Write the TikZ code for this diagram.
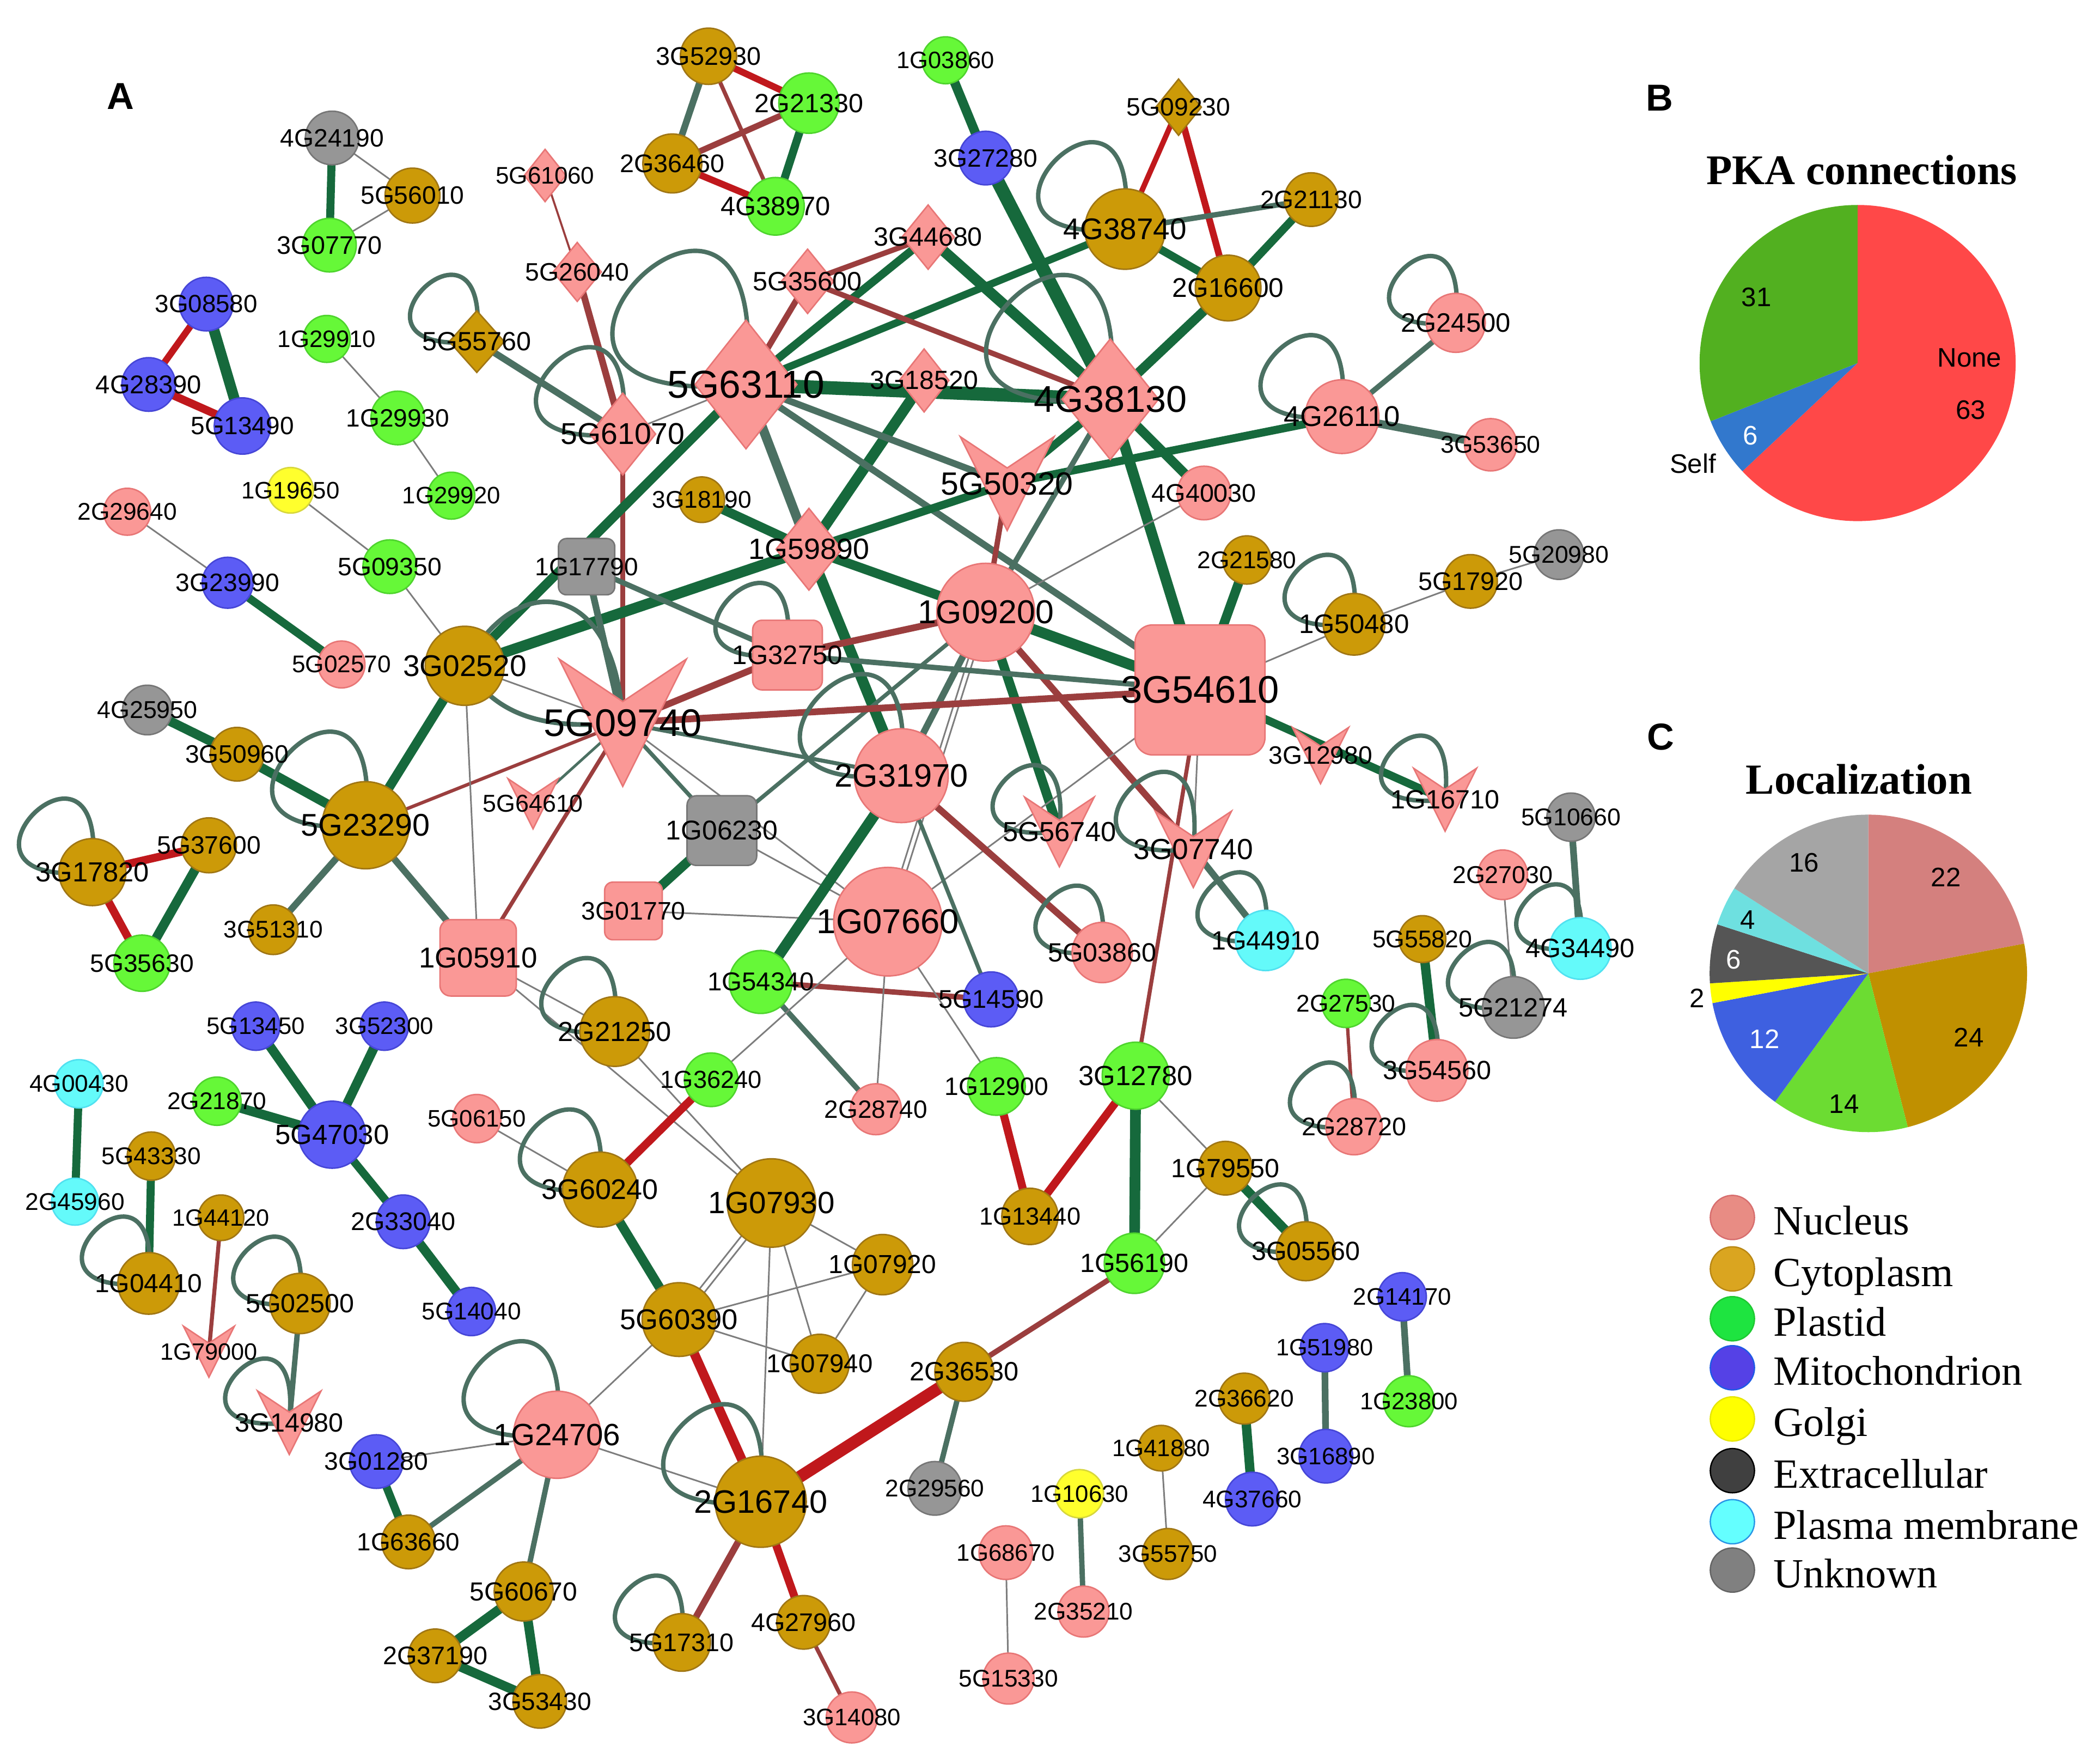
\documentclass[tikz,border=0pt]{standalone}
\usepackage{fontspec}
\setmainfont{Liberation Sans}
\newfontfamily\seriffont{Liberation Serif}
\usetikzlibrary{shapes.geometric,calc}
\pgfdeclarelayer{bg}
\pgfdeclarelayer{fg}
\pgfsetlayers{bg,main,fg}
\definecolor{pkF}{RGB}{250,152,150}
\definecolor{pkD}{RGB}{232,118,118}
\definecolor{goF}{RGB}{204,154,8}
\definecolor{goD}{RGB}{160,118,20}
\definecolor{grF}{RGB}{102,248,56}
\definecolor{grD}{RGB}{78,212,45}
\definecolor{blF}{RGB}{92,92,245}
\definecolor{blD}{RGB}{70,70,215}
\definecolor{yeF}{RGB}{255,255,45}
\definecolor{yeD}{RGB}{215,215,60}
\definecolor{cyF}{RGB}{100,250,250}
\definecolor{cyD}{RGB}{80,225,240}
\definecolor{gyF}{RGB}{150,150,150}
\definecolor{gyD}{RGB}{118,118,118}
\definecolor{cG}{RGB}{22,105,60}
\definecolor{cGG}{RGB}{75,112,98}
\definecolor{cR}{RGB}{192,24,28}
\definecolor{cM}{RGB}{155,62,62}
\definecolor{cT}{RGB}{125,125,125}
\definecolor{pR}{RGB}{255,72,72}
\definecolor{pG}{RGB}{82,176,32}
\definecolor{pB}{RGB}{50,120,205}
\definecolor{lN}{RGB}{212,128,126}
\definecolor{lC}{RGB}{192,144,0}
\definecolor{lP}{RGB}{108,220,50}
\definecolor{lM}{RGB}{62,96,224}
\definecolor{lY}{RGB}{255,255,0}
\definecolor{lE}{RGB}{85,85,85}
\definecolor{lPM}{RGB}{110,224,224}
\definecolor{lU}{RGB}{165,165,165}
\tikzset{
  nd/.style={line width=1.1pt, inner sep=0pt, outer sep=0pt},
  nuc/.style={nd, fill=pkF, draw=pkD},
  cyt/.style={nd, fill=goF, draw=goD},
  pla/.style={nd, fill=grF, draw=grD},
  mit/.style={nd, fill=blF, draw=blD},
  gol/.style={nd, fill=yeF, draw=yeD},
  pm/.style={nd, fill=cyF, draw=cyD},
  unk/.style={nd, fill=gyF, draw=gyD},
  lab/.style={inner sep=0pt, text=black},
  eg/.style={draw=cG, line width=#1},
  egg/.style={draw=cGG, line width=#1},
  er/.style={draw=cR, line width=#1},
  em/.style={draw=cM, line width=#1},
  et/.style={draw=cT, line width=1.2pt},
  lp/.style={draw=cGG, line width=3.3pt},
  lgc/.style={circle, minimum size=33pt, inner sep=0pt, line width=1pt},
  lgt/.style={anchor=base west, inner sep=0pt, font=\seriffont\fontsize{31pt}{31pt}\selectfont},
  pl/.style={inner sep=0pt, font=\fontsize{20pt}{20pt}\selectfont},
}
\newcommand\mklab[2]{\begin{pgfonlayer}{fg}\node[lab,font=\fontsize{#2pt}{#2pt}\selectfont] (#1-t) at (#1.center) {#1};\end{pgfonlayer}}
\newcommand\mkC[6]{\node[circle,minimum size=#4pt,#5] (#1) at (#2,#3) {};\mklab{#1}{#6}}
\newcommand\mkD[7]{\node[diamond,minimum width=#4pt,minimum height=#5pt,#6] (#1) at (#2,#3) {};\mklab{#1}{#7}}
\newcommand\mkR[7]{\node[rectangle,rounded corners=#5pt,minimum size=#4pt,#6] (#1) at (#2,#3) {};\mklab{#1}{#7}}
\newcommand\mkV[5]{\node[inner sep=0pt,minimum size=0pt] (#1) at (#2,#3) {};
  \filldraw[nuc] ([shift={(-#4,-#4)}]#1.center) -- ([shift={(0,-#4/3)}]#1.center) -- ([shift={(#4,-#4)}]#1.center) -- ([shift={(0,#4)}]#1.center) -- cycle;
  \mklab{#1}{#5}}
\newcommand\edg[3]{\draw[#1] (#2.center) -- (#3.center);}
\newcommand\slf[2]{\draw[lp] (#1.center) .. controls +({0.24*#2},{-2.36*#2}) and +({-2.36*#2},{0.24*#2}) .. (#1.center);}
\begin{document}
\begin{tikzpicture}[x=1pt,y=-1pt]
\useasboundingbox (0,0) rectangle (1568,1313);
\begin{pgfonlayer}{bg}
\fill[white] (0,0) rectangle (1568,1313);
\end{pgfonlayer}
% ---------- circles ----------
\mkC{4G24190}{248}{103}{40}{unk}{18.8}
\mkC{5G56010}{308}{146}{41}{cyt}{18.8}
\mkC{3G07770}{246}{183}{40}{pla}{19}
\mkC{3G08580}{154}{227}{40}{mit}{18.6}
\mkC{4G28390}{111}{287}{40}{mit}{19.2}
\mkC{5G13490}{181}{318}{42}{mit}{18.7}
\mkC{1G29910}{244}{253}{35}{pla}{17.8}
\mkC{1G29930}{297}{312}{40}{pla}{18.7}
\mkC{1G29920}{337}{370}{35}{pla}{17.8}
\mkC{1G19650}{217}{366}{34}{gol}{17.8}
\mkC{5G09350}{291}{423}{40}{pla}{18.8}
\mkC{2G29640}{95}{382}{35}{nuc}{18}
\mkC{3G23990}{170}{435}{38}{mit}{18.8}
\mkC{5G02570}{255}{496}{35}{nuc}{18}
\mkC{3G52930}{529}{42}{42}{cyt}{19}
\mkC{2G21330}{604}{77}{45}{pla}{19.7}
\mkC{2G36460}{502}{122}{44}{cyt}{19}
\mkC{4G38970}{579}{154}{43}{pla}{19.9}
\mkC{1G03860}{706}{45}{35}{pla}{17.7}
\mkC{3G27280}{736}{118}{40}{mit}{18.8}
\mkC{4G38740}{840}{171}{60}{cyt}{22.3}
\mkC{2G21130}{979}{149}{40}{cyt}{18.8}
\mkC{2G16600}{917}{215}{49}{cyt}{20.2}
\mkC{4G40030}{899}{368}{40}{nuc}{19}
\mkC{4G26110}{1002}{311}{55}{nuc}{21.4}
\mkC{2G24500}{1087}{241}{44}{nuc}{19.9}
\mkC{3G53650}{1113}{332}{39}{nuc}{18.1}
\mkC{3G18190}{524}{373}{34}{cyt}{18}
\mkC{2G21580}{931}{418}{36}{cyt}{18}
\mkC{1G50480}{1011}{466}{46}{cyt}{20}
\mkC{5G17920}{1098}{434}{40}{cyt}{19}
\mkC{5G20980}{1164}{414}{37}{unk}{18.1}
\mkC{1G09200}{736}{457}{73}{nuc}{24.7}
\mkC{2G31970}{673}{579}{70}{nuc}{24.2}
\mkC{1G07660}{663}{688}{81}{nuc}{25.8}
\mkC{3G02520}{347}{497}{59}{cyt}{22.4}
\mkC{5G23290}{273}{616}{65}{cyt}{23.4}
\mkC{4G25950}{110}{530}{37}{unk}{18.2}
\mkC{3G50960}{177}{563}{40}{cyt}{18.8}
\mkC{3G17820}{69}{651}{50}{cyt}{20.6}
\mkC{5G37600}{156}{631}{41}{cyt}{18.8}
\mkC{5G35630}{106}{719}{42}{pla}{18.8}
\mkC{3G51310}{204}{694}{37}{cyt}{18}
\mkC{2G21250}{459}{770}{52}{cyt}{20.6}
\mkC{5G13450}{191}{766}{36}{mit}{17.8}
\mkC{3G52300}{287}{766}{36}{mit}{17.8}
\mkC{2G21870}{162}{822}{36}{pla}{18}
\mkC{5G47030}{248}{847}{50}{mit}{20.7}
\mkC{4G00430}{59}{809}{36}{pm}{18}
\mkC{5G43330}{113}{863}{36}{cyt}{18}
\mkC{5G06150}{356}{835}{36}{nuc}{17.8}
\mkC{2G45960}{56}{897}{35}{pm}{18}
\mkC{1G04410}{111}{958}{46}{cyt}{19.5}
\mkC{1G44120}{165}{909}{34}{cyt}{17.6}
\mkC{5G02500}{224}{973}{45}{cyt}{19.7}
\mkC{2G33040}{301}{912}{40}{mit}{19}
\mkC{5G14040}{352}{979}{36}{mit}{18}
\mkC{3G60240}{448}{888}{56}{cyt}{21.2}
\mkC{1G24706}{416}{1071}{65}{nuc}{23}
\mkC{3G01280}{281}{1091}{40}{mit}{18.8}
\mkC{1G63660}{305}{1151}{40}{cyt}{18.6}
\mkC{5G60670}{391}{1188}{44}{cyt}{19.5}
\mkC{2G37190}{325}{1236}{40}{cyt}{19}
\mkC{3G53430}{403}{1270}{40}{cyt}{18.7}
\mkC{5G17310}{509}{1226}{43}{cyt}{19}
\mkC{1G54340}{568}{733}{47}{pla}{19.3}
\mkC{1G36240}{531}{806}{40}{pla}{18.4}
\mkC{2G28740}{654}{828}{38}{nuc}{18.7}
\mkC{1G07930}{576}{898}{66}{cyt}{23}
\mkC{1G07920}{659}{944}{45}{cyt}{19.5}
\mkC{5G60390}{507}{985}{55}{cyt}{21.4}
\mkC{1G07940}{612}{1018}{44}{cyt}{19.3}
\mkC{2G36530}{720}{1024}{44}{cyt}{19.8}
\mkC{2G16740}{568}{1121}{68}{cyt}{24.2}
\mkC{4G27960}{600}{1211}{40}{cyt}{19}
\mkC{3G14080}{636}{1282}{38}{nuc}{17.8}
\mkC{2G29560}{698}{1111}{40}{unk}{18}
\mkC{1G68670}{751}{1159}{40}{nuc}{17.8}
\mkC{5G15330}{753}{1253}{38}{nuc}{18}
\mkC{1G10630}{806}{1115}{36}{gol}{17.8}
\mkC{2G35210}{809}{1203}{38}{nuc}{18}
\mkC{1G41880}{867}{1081}{34}{cyt}{17.8}
\mkC{3G55750}{872}{1160}{38}{cyt}{17.9}
\mkC{2G36620}{929}{1044}{38}{cyt}{18}
\mkC{4G37660}{935}{1119}{40}{mit}{18}
\mkC{1G51980}{989}{1006}{36}{mit}{17.6}
\mkC{3G16890}{990}{1087}{40}{mit}{17.8}
\mkC{1G13440}{769}{908}{42}{cyt}{18.4}
\mkC{1G56190}{847}{943}{45}{pla}{19.7}
\mkC{1G79550}{915}{872}{40}{cyt}{19.7}
\mkC{3G05560}{975}{934}{44}{cyt}{19.7}
\mkC{2G14170}{1047}{968}{36}{mit}{17.8}
\mkC{1G23800}{1052}{1046}{38}{pla}{17.8}
\mkC{5G03860}{823}{711}{45}{nuc}{19.7}
\mkC{5G14590}{740}{746}{41}{mit}{19.1}
\mkC{1G44910}{945}{702}{45}{pm}{19.7}
\mkC{1G12900}{744}{811}{43}{pla}{18.8}
\mkC{3G12780}{848}{803}{50}{pla}{20.7}
\mkC{2G27530}{1005}{749}{36}{pla}{18}
\mkC{2G28720}{1011}{841}{42}{nuc}{19}
\mkC{5G10660}{1173}{610}{36}{unk}{18.1}
\mkC{2G27030}{1122}{653}{37}{nuc}{18.2}
\mkC{4G34490}{1180}{708}{46}{pm}{19.8}
\mkC{5G55820}{1062}{701}{35}{cyt}{18.1}
\mkC{5G21274}{1130}{752}{46}{unk}{19.8}
\mkC{3G54560}{1073}{799}{46}{nuc}{19.7}
% ---------- diamonds ----------
\mkD{5G61060}{407}{131}{31}{39}{nuc}{17.9}
\mkD{5G26040}{431}{203}{36}{44}{nuc}{18.8}
\mkD{5G55760}{356}{255}{41}{46}{cyt}{19.7}
\mkD{5G61070}{465}{324}{49}{61}{nuc}{22.5}
\mkD{5G09230}{880}{80}{34}{42}{cyt}{18.8}
\mkD{3G44680}{693}{177}{39}{48}{nuc}{19.7}
\mkD{5G35600}{603}{210}{39}{48}{nuc}{19.8}
\mkD{5G63110}{557}{287}{76}{96}{nuc}{29}
\mkD{3G18520}{690}{284}{37}{47}{nuc}{19.6}
\mkD{4G38130}{829}{298}{72}{90}{nuc}{27.8}
\mkD{1G59890}{604}{410}{49}{61}{nuc}{21.9}
% ---------- rounded squares ----------
\mkR{1G17790}{438}{423}{42}{6}{unk}{18.7}
\mkR{1G32750}{588}{489}{52}{7}{nuc}{20}
\mkR{1G06230}{539}{620}{52}{7}{unk}{20.3}
\mkR{3G01770}{473}{680}{43}{6}{nuc}{18.9}
\mkR{1G05910}{357}{715}{57}{8}{nuc}{21.5}
\mkR{3G54610}{896}{515}{97}{13}{nuc}{28.7}
% ---------- V shapes ----------
\mkV{5G09740}{465}{539.5}{47.5}{28.7}
\mkV{5G50320}{752}{361}{35}{24}
\mkV{5G64610}{398}{600}{18.7}{18.2}
\mkV{5G56740}{791}{621}{26}{20.6}
\mkV{3G07740}{891}{634}{28.5}{21.7}
\mkV{3G12980}{986}{564}{21}{18.8}
\mkV{1G16710}{1079}{597}{23.5}{19.7}
\mkV{1G79000}{156}{1009}{19}{17.6}
\mkV{3G14980}{216}{1062}{23.7}{19.7}
% ---------- edges ----------
\begin{pgfonlayer}{bg}
\edg{eg=6}{4G24190}{3G07770}
\edg{et}{4G24190}{5G56010}
\edg{et}{3G07770}{5G56010}
\edg{er=5}{3G08580}{4G28390}
\edg{er=6}{4G28390}{5G13490}
\edg{eg=8}{3G08580}{5G13490}
\edg{et}{1G29910}{1G29930}
\edg{et}{1G29930}{1G29920}
\edg{et}{1G19650}{5G09350}
\edg{et}{5G09350}{3G02520}
\edg{et}{2G29640}{3G23990}
\edg{eg=6}{3G23990}{5G02570}
\edg{em=1.5}{5G61060}{5G26040}
\edg{em=5}{5G26040}{5G61070}
\edg{egg=5}{5G55760}{5G61070}
\edg{et}{5G61070}{5G63110}
\edg{em=4}{5G61070}{5G09740}
\edg{egg=5}{3G52930}{2G36460}
\edg{er=5}{3G52930}{2G21330}
\edg{em=3}{3G52930}{4G38970}
\edg{em=4.5}{2G36460}{2G21330}
\edg{er=5}{2G36460}{4G38970}
\edg{eg=6}{2G21330}{4G38970}
\edg{eg=7}{1G03860}{3G27280}
\edg{eg=10}{3G27280}{4G38130}
\edg{er=4}{5G09230}{4G38740}
\edg{er=5}{5G09230}{2G16600}
\edg{egg=4}{4G38740}{2G21130}
\edg{eg=6}{4G38740}{2G16600}
\edg{eg=6}{2G21130}{2G16600}
\edg{eg=7}{2G16600}{4G38130}
\edg{eg=5.5}{4G38740}{5G63110}
\edg{em=4}{3G44680}{5G35600}
\edg{eg=6}{3G44680}{5G63110}
\edg{eg=8}{3G44680}{4G38130}
\edg{em=4.5}{5G35600}{5G63110}
\edg{em=4}{5G35600}{4G38130}
\edg{eg=10}{5G63110}{4G38130}
\edg{egg=7}{5G63110}{1G59890}
\edg{eg=8}{3G18520}{1G59890}
\edg{egg=5}{5G63110}{3G54610}
\edg{egg=5}{5G63110}{5G50320}
\edg{eg=7}{3G02520}{5G63110}
\edg{eg=7}{1G59890}{3G18190}
\edg{eg=8}{1G59890}{3G02520}
\edg{eg=7}{1G59890}{1G09200}
\edg{eg=8}{1G59890}{2G31970}
\edg{eg=6}{1G59890}{5G50320}
\edg{eg=6}{5G50320}{4G26110}
\edg{eg=6}{4G38130}{5G50320}
\edg{em=4}{5G50320}{1G09200}
\edg{egg=4}{4G38130}{1G09200}
\edg{eg=8}{4G38130}{3G54610}
\edg{eg=7}{4G38130}{4G40030}
\edg{et}{4G40030}{1G09200}
\edg{egg=4}{4G26110}{2G24500}
\edg{egg=6}{4G26110}{3G53650}
\edg{eg=8}{1G09200}{3G54610}
\edg{em=5}{1G09200}{1G32750}
\edg{eg=7}{1G09200}{5G56740}
\edg{em=5}{1G09200}{3G07740}
\edg{egg=5}{1G09200}{2G31970}
\edg{egg=3}{1G09200}{1G06230}
\draw[et] ([xshift=-2]1G09200.center) -- ([xshift=-2]1G07660.center);
\draw[et] ([xshift=2]1G09200.center) -- ([xshift=2]1G07660.center);
\edg{et}{3G54610}{1G50480}
\edg{eg=7}{3G54610}{2G21580}
\edg{eg=6}{3G54610}{1G16710}
\edg{em=3}{3G54610}{3G12780}
\edg{et}{3G54610}{3G07740}
\edg{et}{3G54610}{1G07660}
\edg{egg=4}{1G32750}{3G54610}
\edg{em=5}{5G09740}{3G54610}
\edg{em=5}{5G09740}{1G32750}
\edg{egg=4}{1G17790}{1G32750}
\edg{egg=5}{1G17790}{5G09740}
\edg{egg=3}{5G09740}{2G31970}
\edg{egg=3}{5G09740}{1G06230}
\edg{et}{5G09740}{1G07660}
\edg{em=2.5}{5G09740}{5G23290}
\edg{em=3}{5G09740}{1G05910}
\edg{egg=2}{5G09740}{5G64610}
\edg{et}{3G02520}{5G09740}
\draw[egg=3.5] (3G02520.center) .. controls ($(3G02520.center)+(40,-75)$) and ($(5G09740.center)+(-5,-105)$) .. (5G09740.center);
\draw[egg=3.5] (3G02520.center) .. controls ($(3G02520.center)+(25,40)$) and ($(5G09740.center)+(-55,5)$) .. (5G09740.center);
\edg{et}{3G02520}{1G05910}
\edg{eg=7}{3G02520}{5G23290}
\edg{eg=7}{5G23290}{3G50960}
\edg{eg=7}{3G50960}{4G25950}
\edg{egg=5}{5G23290}{3G51310}
\edg{egg=5}{5G23290}{1G05910}
\edg{er=6}{3G17820}{5G37600}
\edg{er=6}{3G17820}{5G35630}
\edg{eg=7}{5G37600}{5G35630}
\edg{et}{1G05910}{2G21250}
\edg{et}{1G05910}{1G07930}
\edg{et}{2G21250}{1G07930}
\edg{eg=7}{1G06230}{3G01770}
\edg{et}{1G06230}{1G07660}
\edg{et}{3G01770}{1G07660}
\edg{eg=8}{2G31970}{1G54340}
\edg{em=5}{2G31970}{5G03860}
\edg{egg=3}{2G31970}{5G14590}
\edg{em=4}{1G54340}{5G14590}
\edg{egg=4}{1G54340}{2G28740}
\edg{et}{1G07660}{2G28740}
\edg{et}{1G07660}{1G36240}
\edg{et}{1G07660}{1G12900}
\edg{egg=5}{3G07740}{1G44910}
\edg{er=6}{1G12900}{1G13440}
\edg{er=6}{3G12780}{1G13440}
\edg{eg=8}{3G12780}{1G56190}
\edg{et}{3G12780}{1G79550}
\edg{et}{1G56190}{1G79550}
\edg{eg=7}{1G79550}{3G05560}
\edg{em=4}{1G56190}{2G36530}
\edg{er=9}{2G36530}{2G16740}
\edg{egg=4}{2G36530}{2G29560}
\edg{er=7}{5G60390}{2G16740}
\edg{em=5}{2G16740}{5G17310}
\edg{er=6}{2G16740}{4G27960}
\edg{em=3}{4G27960}{3G14080}
\edg{et}{2G16740}{1G24706}
\edg{et}{2G16740}{1G07930}
\edg{eg=7}{3G60240}{5G60390}
\edg{er=6}{3G60240}{1G36240}
\edg{et}{3G60240}{5G06150}
\draw[et] ([shift={(1.6,1.6)}]5G60390.center) -- ([shift={(1.6,1.6)}]1G07930.center);
\draw[et] ([shift={(-1.6,-1.6)}]5G60390.center) -- ([shift={(-1.6,-1.6)}]1G07930.center);
\edg{et}{5G60390}{1G07920}
\edg{et}{5G60390}{1G07940}
\edg{et}{5G60390}{1G24706}
\edg{et}{1G07930}{1G07920}
\edg{et}{1G07930}{1G07940}
\edg{et}{1G07920}{1G07940}
\edg{et}{1G24706}{3G01280}
\edg{egg=4}{1G24706}{1G63660}
\edg{egg=4}{1G24706}{5G60670}
\edg{eg=6}{3G01280}{1G63660}
\edg{eg=7}{5G60670}{2G37190}
\edg{eg=7}{5G60670}{3G53430}
\edg{eg=7}{2G37190}{3G53430}
\edg{eg=7}{5G13450}{5G47030}
\edg{eg=7}{3G52300}{5G47030}
\edg{eg=7}{2G21870}{5G47030}
\edg{eg=6}{5G47030}{2G33040}
\edg{eg=7}{2G33040}{5G14040}
\edg{eg=6}{4G00430}{2G45960}
\edg{eg=6}{5G43330}{1G04410}
\edg{em=3}{1G44120}{1G79000}
\edg{egg=4}{5G02500}{3G14980}
\edg{et}{1G68670}{5G15330}
\edg{egg=4}{1G10630}{2G35210}
\edg{et}{1G41880}{3G55750}
\edg{eg=7}{2G36620}{4G37660}
\edg{egg=5}{1G51980}{3G16890}
\edg{egg=5}{2G14170}{1G23800}
\edg{em=2.5}{2G27530}{2G28720}
\edg{eg=7}{5G55820}{3G54560}
\edg{et}{2G27030}{5G21274}
\edg{egg=5}{5G10660}{4G34490}
\edg{et}{5G17920}{5G20980}
\edg{et}{5G17920}{1G50480}
% self loops
\slf{5G55760}{50}
\slf{5G61070}{65}
\slf{5G63110}{100}
\slf{4G38740}{65}
\slf{4G38130}{93}
\slf{4G26110}{61}
\slf{2G24500}{50}
\slf{1G50480}{52}
\slf{3G17820}{55}
\slf{5G23290}{70}
\slf{1G32750}{54}
\slf{2G31970}{76}
\slf{5G56740}{50}
\slf{3G07740}{58}
\slf{5G03860}{50}
\slf{1G44910}{51}
\slf{1G16710}{48}
\slf{4G34490}{48}
\slf{5G21274}{49}
\slf{3G54560}{49}
\slf{2G28720}{48}
\slf{2G21250}{55}
\slf{3G60240}{60}
\slf{1G04410}{50}
\slf{5G02500}{50}
\slf{3G14980}{48}
\slf{1G24706}{70}
\slf{2G16740}{73}
\slf{5G17310}{50}
\slf{3G05560}{50}
\end{pgfonlayer}
% ---------- panel letters ----------
\node[font=\bfseries\fontsize{28pt}{28pt}\selectfont, inner sep=0pt] (pA) at (90,72) {A};
\node[font=\bfseries\fontsize{28pt}{28pt}\selectfont, inner sep=0pt] (pBl) at (1239,73) {B};
\node[font=\bfseries\fontsize{28pt}{28pt}\selectfont, inner sep=0pt] (pCl) at (1240,550) {C};
% ---------- pie B ----------
\node[anchor=base, inner sep=0pt, font=\seriffont\bfseries\fontsize{31.5pt}{31.5pt}\selectfont] (tB) at (1390,137.5) {PKA connections};
\begin{scope}[shift={(1387,271)},yscale=-1]
\fill[pR] (0,0) -- (90:118) arc[start angle=90,end angle=-136.8,radius=118] -- cycle;
\fill[pB] (0,0) -- (-136.8:118) arc[start angle=-136.8,end angle=-158.4,radius=118] -- cycle;
\fill[pG] (0,0) -- (-158.4:118) arc[start angle=-158.4,end angle=-270,radius=118] -- cycle;
\end{scope}
\node[pl] (b31) at (1311.5,222) {31};
\node[pl] (bNone) at (1470.5,267) {None};
\node[pl] (b63) at (1471.5,306) {63};
\node[pl,text=white] (b6) at (1307,325) {6};
\node[pl] (bSelf) at (1264,346) {Self};
% ---------- pie C ----------
\node[anchor=base, inner sep=0pt, font=\seriffont\bfseries\fontsize{32pt}{32pt}\selectfont] (tC) at (1388,592.5) {Localization};
\begin{scope}[shift={(1395,726.6)},yscale=-1]
\fill[lN] (0,0) -- (90:118.5) arc[start angle=90,end angle=10.8,radius=118.5] -- cycle;
\fill[lC] (0,0) -- (10.8:118.5) arc[start angle=10.8,end angle=-75.6,radius=118.5] -- cycle;
\fill[lP] (0,0) -- (-75.6:118.5) arc[start angle=-75.6,end angle=-126,radius=118.5] -- cycle;
\fill[lM] (0,0) -- (-126:118.5) arc[start angle=-126,end angle=-169.2,radius=118.5] -- cycle;
\fill[lY] (0,0) -- (-169.2:118.5) arc[start angle=-169.2,end angle=-176.4,radius=118.5] -- cycle;
\fill[lE] (0,0) -- (-176.4:118.5) arc[start angle=-176.4,end angle=-198,radius=118.5] -- cycle;
\fill[lPM] (0,0) -- (-198:118.5) arc[start angle=-198,end angle=-212.4,radius=118.5] -- cycle;
\fill[lU] (0,0) -- (-212.4:118.5) arc[start angle=-212.4,end angle=-270,radius=118.5] -- cycle;
\end{scope}
\node[pl] (c22) at (1453,655) {22};
\node[pl] (c24) at (1470,774.5) {24};
\node[pl] (c14) at (1377,824) {14};
\node[pl,text=white] (c12) at (1317.5,775.5) {12};
\node[pl] (c2) at (1267,745) {2};
\node[pl,text=white] (c6) at (1294.5,716.5) {6};
\node[pl] (c4) at (1305,686.5) {4};
\node[pl] (c16) at (1347,644) {16};
% ---------- legend ----------
\node[lgc, fill={rgb,255:red,232;green,140;blue,132}, draw={rgb,255:red,215;green,110;blue,110}] (g1) at (1293.5,908.8) {};
\node[lgc, fill={rgb,255:red,218;green,165;blue,32}, draw={rgb,255:red,185;green,135;blue,20}] (g2) at (1293.5,947.2) {};
\node[lgc, fill={rgb,255:red,30;green,228;blue,64}, draw={rgb,255:red,30;green,200;blue,50}] (g3) at (1293.5,984.4) {};
\node[lgc, fill={rgb,255:red,85;green,65;blue,230}, draw={rgb,255:red,30;green,90;blue,230}] (g4) at (1293.5,1021) {};
\node[lgc, fill={rgb,255:red,255;green,255;blue,0}, draw={rgb,255:red,230;green,230;blue,0}] (g5) at (1293.5,1059.2) {};
\node[lgc, fill={rgb,255:red,64;green,64;blue,64}, draw=black] (g6) at (1293.5,1097.8) {};
\node[lgc, fill={rgb,255:red,100;green,255;blue,255}, draw={rgb,255:red,40;green,150;blue,230}] (g7) at (1293.5,1135.9) {};
\node[lgc, fill={rgb,255:red,128;green,128;blue,128}, draw={rgb,255:red,100;green,100;blue,100}] (g8) at (1293.5,1172) {};
\node[lgt] (t1) at (1324,921.8) {Nucleus};
\node[lgt] (t2) at (1324,960.2) {Cytoplasm};
\node[lgt] (t3) at (1324,997.4) {Plastid};
\node[lgt] (t4) at (1324,1034) {Mitochondrion};
\node[lgt] (t5) at (1324,1072.2) {Golgi};
\node[lgt] (t6) at (1324,1110.8) {Extracellular};
\node[lgt] (t7) at (1324,1148.9) {Plasma membrane};
\node[lgt] (t8) at (1324,1185) {Unknown};
\end{tikzpicture}
\end{document}
